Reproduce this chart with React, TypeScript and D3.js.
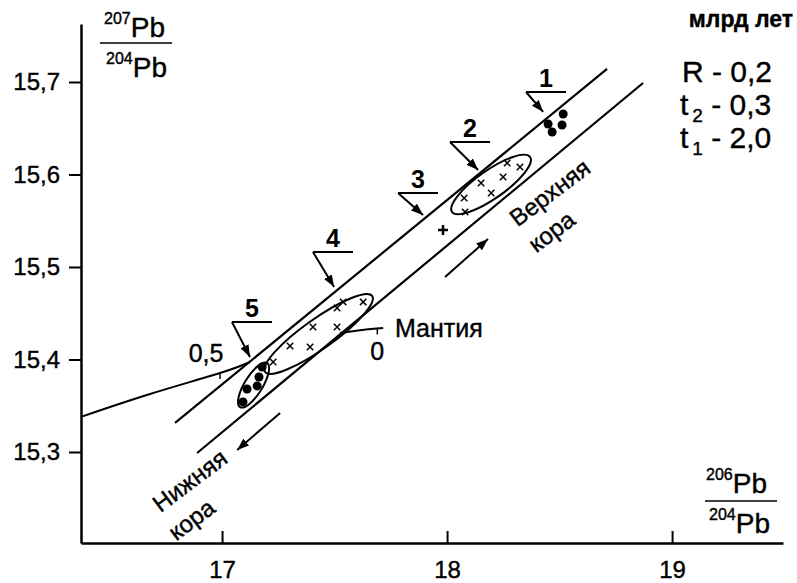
import { useEffect, useRef } from "react";
import * as d3 from "d3";

const WIDTH = 797;
const HEIGHT = 583;
const FONT = "'Liberation Sans', Arial, Helvetica, sans-serif";

// axis extents and ticks (data units)
const xExtent = [16.373, 19.493];
const yExtent = [15.2016, 15.7627];
const xTicks = [17, 18, 19];
const yTicks = [15.3, 15.4, 15.5, 15.6, 15.7];

// two parallel growth lines
const lineA = [[16.791, 15.3314], [18.711, 15.7141]];
const lineB = [[16.889, 15.2989], [18.871, 15.6989]];

// mantle curve, broken between the two lines
const mantleLeft = [[16.373, 15.338], [16.68, 15.3627], [16.991, 15.3854], [17.124, 15.3973]];
const mantleRight = [[17.524, 15.4286], [17.622, 15.4319], [17.716, 15.434]];
const mantleTicks = [
  { label: "0,5", x: 16.991, y: 15.3854 },
  { label: "0", x: 17.69, y: 15.4335 },
];

// samples
const group1 = [[18.449, 15.6546], [18.467, 15.6459], [18.511, 15.6535], [18.516, 15.6654]];
const group2 = [[18.267, 15.6124], [18.324, 15.6081], [18.249, 15.5973], [18.151, 15.5908],
  [18.196, 15.58], [18.076, 15.5746], [18.08, 15.5595]];
const group3 = [[17.982, 15.54]];
const group4 = [[17.511, 15.4557], [17.538, 15.4622], [17.627, 15.4622], [17.404, 15.4351],
  [17.511, 15.4351], [17.302, 15.4146], [17.391, 15.4135], [17.227, 15.3973]];
const group5 = [[17.178, 15.3919], [17.164, 15.3811], [17.156, 15.3714], [17.111, 15.3681], [17.093, 15.3541]];

// ellipses: major axis end points
const ellipses = [
  { p1: [17.191, 15.3865], p2: [17.667, 15.4686], ry: 15 },
  { p1: [17.08, 15.3486], p2: [17.2, 15.3962], ry: 9 },
  { p1: [18.022, 15.5595], p2: [18.369, 15.6189], ry: 14 },
];

// numbered callouts: label anchor and arrow tip
const callouts = [
  { label: "1", from: [18.351, 15.6892], tip: [18.427, 15.6676] },
  { label: "2", from: [18.013, 15.6351], tip: [18.138, 15.6049] },
  { label: "3", from: [17.782, 15.58], tip: [17.893, 15.5562] },
  { label: "4", from: [17.404, 15.5162], tip: [17.498, 15.4784] },
  { label: "5", from: [17.044, 15.4405], tip: [17.124, 15.4027] },
];

// direction arrows
const upperArrow = [[17.991, 15.4892], [18.182, 15.5303]];
const lowerArrow = [[17.258, 15.3422], [17.067, 15.3022]];

const x = d3.scaleLinear().domain(xExtent).range([81, 783]);
const y = d3.scaleLinear().domain(yExtent).range([543, 24]);

const line = d3.line<number[]>().x((d) => x(d[0])).y((d) => y(d[1]));
const curve = d3.line<number[]>().x((d) => x(d[0])).y((d) => y(d[1])).curve(d3.curveNatural);

const comma = (v: number) => d3.format(".1f")(v).replace(".", ",");

const Ellipse = ({ p1, p2, ry }: { p1: number[]; p2: number[]; ry: number }) => {
  const x1 = x(p1[0]), y1 = y(p1[1]), x2 = x(p2[0]), y2 = y(p2[1]);
  const cx = (x1 + x2) / 2, cy = (y1 + y2) / 2;
  const rx = Math.hypot(x2 - x1, y2 - y1) / 2;
  const ang = (Math.atan2(y2 - y1, x2 - x1) * 180) / Math.PI;
  return (
    <ellipse cx={cx} cy={cy} rx={rx} ry={ry} fill="none" stroke="#000" strokeWidth={2}
      transform={`rotate(${ang},${cx},${cy})`} />
  );
};

const Cross = ({ d, s, w }: { d: number[]; s: number; w: number }) => {
  const cx = x(d[0]), cy = y(d[1]);
  return (
    <path d={`M${cx - s},${cy - s}L${cx + s},${cy + s}M${cx - s},${cy + s}L${cx + s},${cy - s}`}
      stroke="#000" strokeWidth={w} />
  );
};

export default function App() {
  const axesRef = useRef<SVGGElement>(null);

  useEffect(() => {
    const g = d3.select(axesRef.current);
    g.selectAll("*").remove();

    const yAxis = g.append("g").attr("transform", "translate(81,0)")
      .call(d3.axisLeft(y).tickValues(yTicks).tickSize(12).tickSizeOuter(0).tickPadding(9).tickFormat((d) => comma(+d)));
    const xAxis = g.append("g").attr("transform", "translate(0,543)")
      .call(d3.axisBottom(x).tickValues(xTicks).tickSizeInner(-12).tickSizeOuter(0).tickPadding(18).tickFormat((d) => String(d)));

    [yAxis, xAxis].forEach((a) => {
      a.select(".domain").attr("stroke", "#000").attr("stroke-width", 2.5);
      a.selectAll(".tick line").attr("stroke", "#000").attr("stroke-width", 2);
      a.selectAll(".tick text").attr("fill", "#000").attr("stroke", "#000").attr("stroke-width", 0.4)
        .style("font-size", "24px").style("font-family", FONT);
    });
  }, []);

  return (
    <svg width={WIDTH} height={HEIGHT} style={{ position: "absolute", left: 0, top: 0, background: "#fff" }}
      fontFamily={FONT}>
      <defs>
        <marker id="arr" markerUnits="userSpaceOnUse" markerWidth={12} markerHeight={9} refX={12} refY={4.5} orient="auto">
          <path d="M0,0L12,4.5L0,9z" fill="#000" />
        </marker>
      </defs>
      <rect width={WIDTH} height={HEIGHT} fill="#fff" />

      {/* growth lines and mantle curve */}
      <path d={line(lineA) ?? ""} fill="none" stroke="#000" strokeWidth={2.2} />
      <path d={line(lineB) ?? ""} fill="none" stroke="#000" strokeWidth={2.2} />
      <path d={curve(mantleLeft) ?? ""} fill="none" stroke="#000" strokeWidth={2} />
      <path d={curve(mantleRight) ?? ""} fill="none" stroke="#000" strokeWidth={2} />

      <g stroke="#000" strokeWidth={0.4}>
        {mantleTicks.map((t, i) => (
          <g key={t.label}>
            <line x1={x(t.x)} y1={y(t.y)} x2={x(t.x)} y2={y(t.y) + 6} strokeWidth={1.5} />
            <text x={x(t.x) + (i === 0 ? -14 : 0)} y={y(t.y) + (i === 0 ? -11 : 32)} textAnchor="middle" fontSize={25}>{t.label}</text>
          </g>
        ))}
        <text x={395} y={337} fontSize={25}>Мантия</text>
      </g>

      {/* ellipses and samples */}
      {ellipses.map((e, i) => <Ellipse key={i} {...e} />)}
      {group1.map((d, i) => <circle key={i} cx={x(d[0])} cy={y(d[1])} r={4.5} fill="#000" />)}
      {group5.map((d, i) => <circle key={i} cx={x(d[0])} cy={y(d[1])} r={4.5} fill="#000" />)}
      {group2.map((d, i) => <Cross key={i} d={d} s={3.2} w={1.5} />)}
      {group4.map((d, i) => <Cross key={i} d={d} s={3.2} w={1.5} />)}
      {group3.map((d, i) => (
        <path key={i} d={`M${x(d[0]) - 5},${y(d[1])}h10M${x(d[0])},${y(d[1]) - 5}v10`} stroke="#000" strokeWidth={2.5} />
      ))}

      {/* callouts */}
      {callouts.map((c) => {
        const fx = x(c.from[0]), fy = y(c.from[1]);
        return (
          <g key={c.label}>
            <line x1={fx} y1={fy} x2={fx + 40} y2={fy} stroke="#000" strokeWidth={2} />
            <path d={`M${fx},${fy}L${x(c.tip[0])},${y(c.tip[1])}`} stroke="#000" strokeWidth={2} markerEnd="url(#arr)" />
            <text x={fx + 20} y={fy - 5} textAnchor="middle" fontSize={25} fontWeight="bold">{c.label}</text>
          </g>
        );
      })}

      {/* crust arrows and labels */}
      <path d={line(upperArrow) ?? ""} stroke="#000" strokeWidth={2} markerEnd="url(#arr)" />
      <path d={line(lowerArrow) ?? ""} stroke="#000" strokeWidth={2} markerEnd="url(#arr)" />
      <g stroke="#000" strokeWidth={0.4}>
        <g transform="translate(550,193) rotate(-37)" fontSize={24}>
          <text textAnchor="middle" y={8}>Верхняя</text>
          <text textAnchor="middle" x={-22} y={40}>кора</text>
        </g>
        <g transform="translate(190,481) rotate(-37)" fontSize={24}>
          <text textAnchor="middle" y={8}>Нижняя</text>
          <text textAnchor="middle" x={-22} y={40}>кора</text>
        </g>

        {/* axis titles */}
        <g fontSize={28}>
          <text x={104} y={37}><tspan fontSize={16} dy={-13}>207</tspan><tspan dy={13}>Pb</tspan></text>
          <line x1={100} y1={43} x2={172} y2={43} strokeWidth={1.5} />
          <text x={106} y={77}><tspan fontSize={16} dy={-13}>204</tspan><tspan dy={13}>Pb</tspan></text>
          <text x={706} y={493}><tspan fontSize={16} dy={-13}>206</tspan><tspan dy={13}>Pb</tspan></text>
          <line x1={705} y1={501} x2={777} y2={501} strokeWidth={1.5} />
          <text x={709} y={533}><tspan fontSize={16} dy={-13}>204</tspan><tspan dy={13}>Pb</tspan></text>
        </g>

        {/* model parameters */}
        <text x={793} y={27} textAnchor="end" fontSize={23} fontWeight="bold">млрд лет</text>
        <g fontSize={30}>
          <text x={682} y={82}>R - 0,2</text>
          <text x={680} y={115}>t<tspan dx={4} dy={7} fontSize={19}>2</tspan><tspan dy={-7}> - 0,3</tspan></text>
          <text x={680} y={148}>t<tspan dx={4} dy={7} fontSize={19}>1</tspan><tspan dy={-7}> - 2,0</tspan></text>
        </g>
      </g>

      <g ref={axesRef} />
    </svg>
  );
}
